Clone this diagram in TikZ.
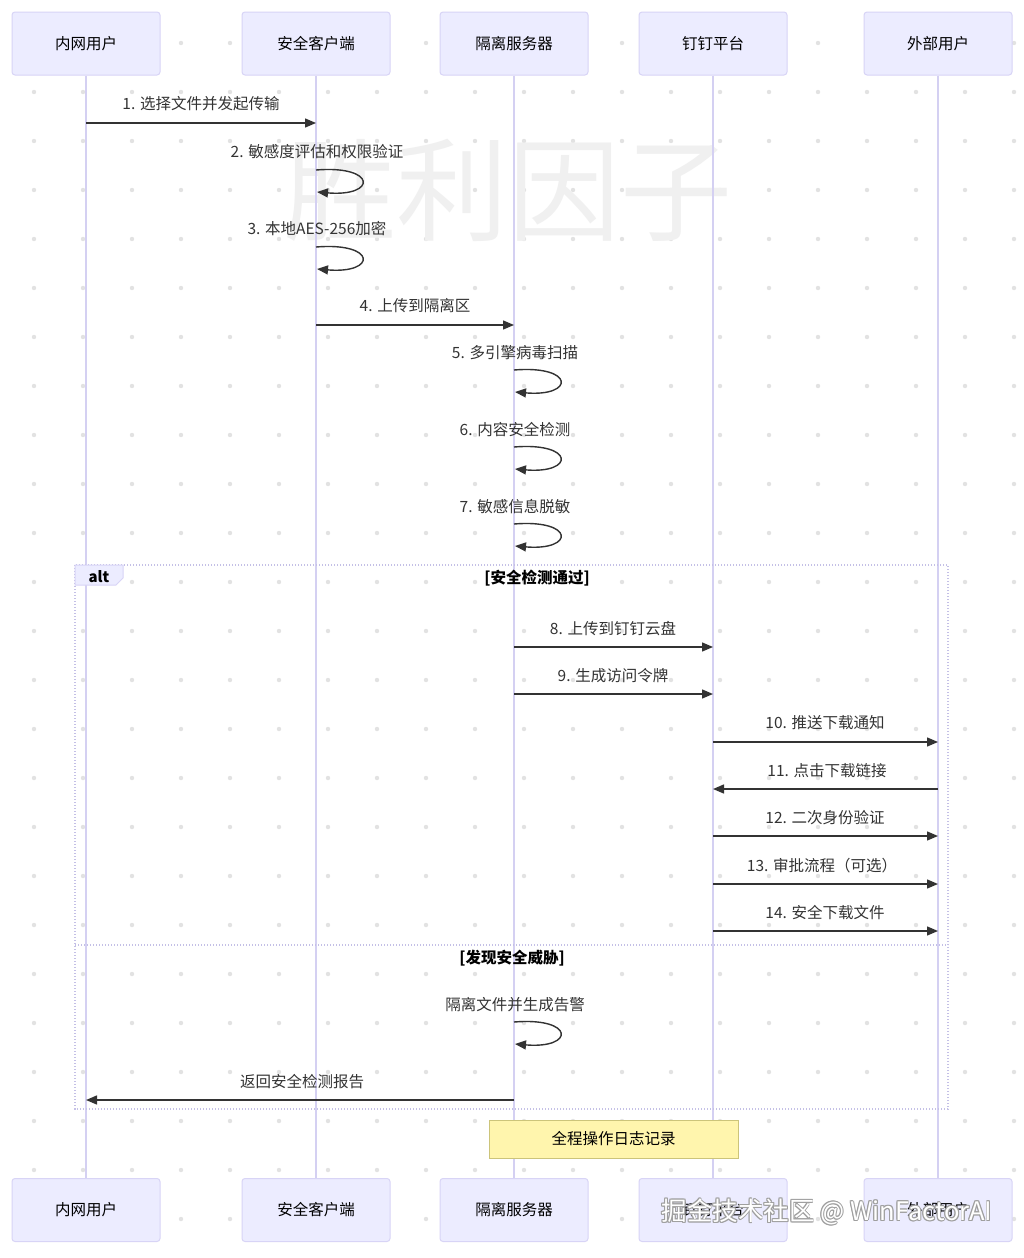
\documentclass[tikz,border=0pt]{standalone}
\usepackage{fontspec}
\setmainfont{Noto Sans CJK SC}
\usetikzlibrary{arrows.meta}
\definecolor{actfill}{HTML}{ECECFF}
\definecolor{actline}{HTML}{D8D4F6}
\definecolor{lifecol}{HTML}{D4D0F2}
\definecolor{txt}{HTML}{333333}
\definecolor{notefill}{HTML}{FFF5AD}
\definecolor{noteline}{HTML}{CCC47A}
\definecolor{dotcol}{HTML}{E2E2E2}
\definecolor{wmcol}{HTML}{F0F0F0}
\definecolor{altcol}{HTML}{C4C0E6}
\pgfdeclarelayer{bg}
\pgfsetlayers{bg,main}
\begin{document}
\begin{tikzpicture}[x=1pt,y=-1pt,
  actor/.style={draw=actline, fill=actfill, rounded corners=3pt, minimum width=148pt, minimum height=63pt, line width=1pt, font=\fontsize{15.5}{18}\selectfont, text=black, inner sep=0pt},
  lifeline/.style={draw=lifecol, line width=1.6pt},
  msgline/.style={draw=txt, line width=1.4pt, -{Triangle[length=11pt,width=9pt]}},
  lbl/.style={font=\fontsize{15.5}{18}\selectfont, text=txt, inner sep=0pt},
  sect/.style={font=\bfseries\fontsize{15.5}{18}\selectfont, text=black, inner sep=0pt},
  altframe/.style={draw=altcol, line width=1.2pt, dash pattern=on 1.4pt off 1.6pt},
  notebox/.style={draw=noteline, fill=notefill, line width=1pt, minimum width=249pt, minimum height=38pt, font=\fontsize{15.5}{18}\selectfont, text=black, inner sep=0pt},
  wmtext/.style={font=\fontsize{25.5}{30}\selectfont, inner sep=0pt}
]
\useasboundingbox (0,0) rectangle (1024,1258);

% participants
\node[actor] (ua) at (86,43.5) {内网用户};
\node[actor] (ca) at (316,43.5) {安全客户端};
\node[actor] (sa) at (514,43.5) {隔离服务器};
\node[actor] (da) at (713,43.5) {钉钉平台};
\node[actor] (ea) at (938,43.5) {外部用户};
\node[actor] (ub) at (86,1210) {内网用户};
\node[actor] (cb) at (316,1210) {安全客户端};
\node[actor] (sb) at (514,1210) {隔离服务器};
\node[actor] (db) at (713,1210) {钉钉平台};
\node[actor] (eb) at (938,1210) {外部用户};

\begin{pgfonlayer}{bg}
\fill[white] (0,0) rectangle (1024,1258);
\foreach \i in {0,...,20}{\foreach \j in {0,...,24}{\fill[dotcol] (34+49*\i,43+49*\j) circle (2.2pt);}}
\node[text=wmcol, font=\fontsize{112}{120}\selectfont, inner sep=0pt] (wmark) at (508,190) {胜利因子};
\draw[lifeline] (ua.south) -- (ub.north);
\draw[lifeline] (ca.south) -- (cb.north);
\draw[lifeline] (sa.south) -- (sb.north);
\draw[lifeline] (da.south) -- (db.north);
\draw[lifeline] (ea.south) -- (eb.north);
\end{pgfonlayer}

% alt frame
\draw[altframe] (75,565) rectangle (948,1109);
\draw[altframe] (75,945) -- (948,945);
\draw[draw=actline, fill=actfill, line width=1pt] (75,565) -- (123,565) -- (123,578) -- (116,585) -- (75,585) -- cycle;
\node[font=\bfseries\fontsize{15}{18}\selectfont, text=black, inner sep=0pt] (altlbl) at (99,577) {alt};
\node[sect] (s1) at (537,578) {[安全检测通过]};
\node[sect] (s2) at (512,958) {[发现安全威胁]};

% message 1
\coordinate (m1a) at (86,123); \coordinate (m1b) at (316,123);
\draw[msgline] (m1a) -- (m1b);
\node[lbl] (l1) at (201,104) {1. 选择文件并发起传输};
% self 2
\coordinate (m2a) at (316,170); \coordinate (m2b) at (317,192);
\draw[msgline] (m2a) .. controls (377,165) and (377,197) .. (m2b);
\node[lbl] (l2) at (317,152) {2. 敏感度评估和权限验证};
% self 3
\coordinate (m3a) at (316,247); \coordinate (m3b) at (317,269);
\draw[msgline] (m3a) .. controls (377,242) and (377,274) .. (m3b);
\node[lbl] (l3) at (317,229) {3. 本地AES-256加密};
% message 4
\coordinate (m4a) at (316,325); \coordinate (m4b) at (514,325);
\draw[msgline] (m4a) -- (m4b);
\node[lbl] (l4) at (415,306) {4. 上传到隔离区};
% self 5
\coordinate (m5a) at (514,370); \coordinate (m5b) at (515,392);
\draw[msgline] (m5a) .. controls (575,365) and (575,397) .. (m5b);
\node[lbl] (l5) at (515,353) {5. 多引擎病毒扫描};
% self 6
\coordinate (m6a) at (514,447); \coordinate (m6b) at (515,469);
\draw[msgline] (m6a) .. controls (575,442) and (575,474) .. (m6b);
\node[lbl] (l6) at (515,430) {6. 内容安全检测};
% self 7
\coordinate (m7a) at (514,524); \coordinate (m7b) at (515,546);
\draw[msgline] (m7a) .. controls (575,519) and (575,551) .. (m7b);
\node[lbl] (l7) at (515,507) {7. 敏感信息脱敏};
% message 8
\coordinate (m8a) at (514,647); \coordinate (m8b) at (713,647);
\draw[msgline] (m8a) -- (m8b);
\node[lbl] (l8) at (613,629) {8. 上传到钉钉云盘};
% message 9
\coordinate (m9a) at (514,694); \coordinate (m9b) at (713,694);
\draw[msgline] (m9a) -- (m9b);
\node[lbl] (l9) at (613,676) {9. 生成访问令牌};
% message 10
\coordinate (m10a) at (713,742); \coordinate (m10b) at (938,742);
\draw[msgline] (m10a) -- (m10b);
\node[lbl] (l10) at (825,723) {10. 推送下载通知};
% message 11
\coordinate (m11a) at (938,789); \coordinate (m11b) at (713,789);
\draw[msgline] (m11a) -- (m11b);
\node[lbl] (l11) at (827,771) {11. 点击下载链接};
% message 12
\coordinate (m12a) at (713,836); \coordinate (m12b) at (938,836);
\draw[msgline] (m12a) -- (m12b);
\node[lbl] (l12) at (825,818) {12. 二次身份验证};
% message 13
\coordinate (m13a) at (713,884); \coordinate (m13b) at (938,884);
\draw[msgline] (m13a) -- (m13b);
\node[lbl] (l13) at (822,866) {13. 审批流程（可选）};
% message 14
\coordinate (m14a) at (713,931); \coordinate (m14b) at (938,931);
\draw[msgline] (m14a) -- (m14b);
\node[lbl] (l14) at (825,913) {14. 安全下载文件};
% self alert
\coordinate (m15a) at (514,1022); \coordinate (m15b) at (515,1044);
\draw[msgline] (m15a) .. controls (575,1017) and (575,1049) .. (m15b);
\node[lbl] (l15) at (515,1005) {隔离文件并生成告警};
% return report
\coordinate (m16a) at (514,1100); \coordinate (m16b) at (86,1100);
\draw[msgline] (m16a) -- (m16b);
\node[lbl] (l16) at (302,1082) {返回安全检测报告};

% note
\node[notebox] (note) at (613.5,1139) {全程操作日志记录};

% bottom watermark
\foreach \dx/\dy in {-0.9/0,0.9/0,0/-0.9,0/0.9,0.7/0.7,-0.7/-0.7,0.7/-0.7,-0.7/0.7}{
  \node[wmtext, text=gray!75] at (827+\dx,1212+\dy) {掘金技术社区 @ WinFactorAI};}
\node[wmtext, text=white] (wm2) at (827,1212) {掘金技术社区 @ WinFactorAI};
\end{tikzpicture}
\end{document}
